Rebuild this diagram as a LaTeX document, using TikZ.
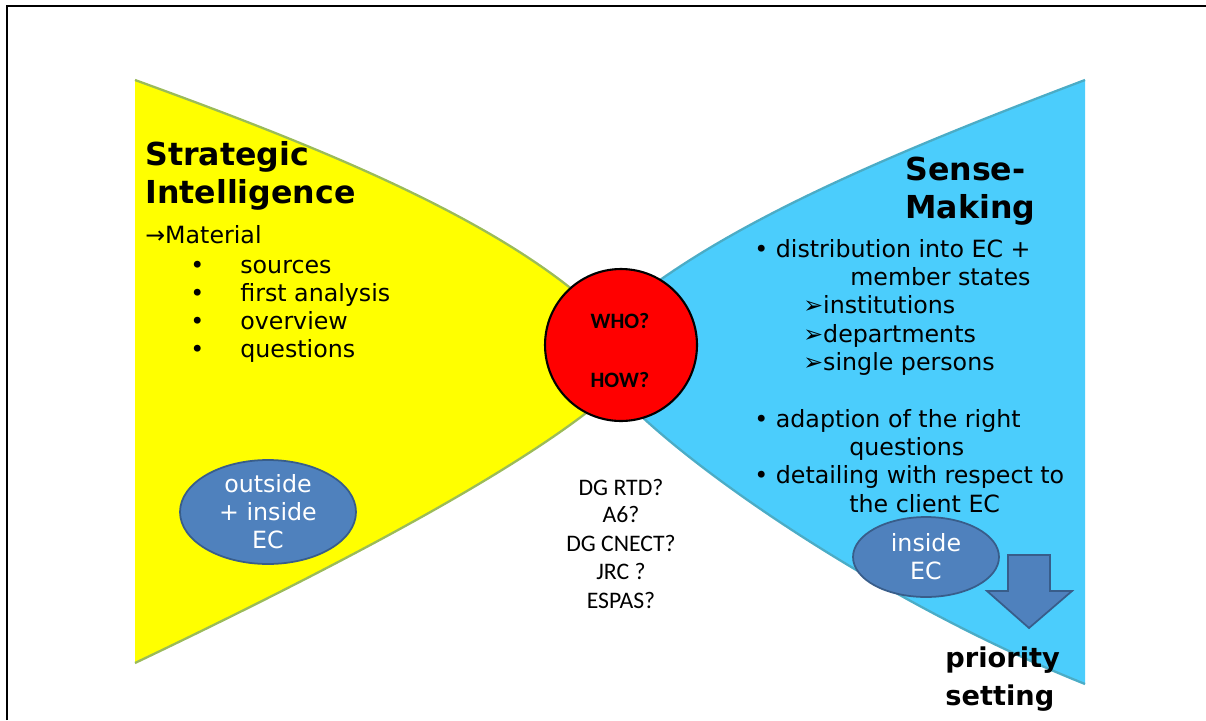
\documentclass[tikz,border=0pt]{standalone}
\usepackage{fontspec}
\setmainfont{DejaVu Sans}
\newfontfamily\calfont{Carlito}
\usetikzlibrary{shapes.geometric}

\definecolor{siyellow}{HTML}{FFFF00}
\definecolor{siedge}{HTML}{9BBB59}
\definecolor{smblue}{HTML}{4BCDFC}
\definecolor{smedge}{HTML}{4BACC6}
\definecolor{blobfill}{HTML}{4F81BD}
\definecolor{blobline}{HTML}{385D8A}

\tikzset{
	head/.style={font=\bfseries\fontsize{18}{22}\selectfont, inner sep=0pt, anchor=base west},
	txt/.style={font=\fontsize{13.5}{16}\selectfont, inner sep=0pt, anchor=base west},
	who/.style={font=\calfont\fontsize{13.5}{16}\selectfont, inner sep=0pt, anchor=base},
	bluefill/.style={draw=blobline, fill=blobfill, line width=1pt},
	blob/.style={bluefill, ellipse, inner sep=0pt},
	blobtxt/.style={font=\fontsize{13.5}{16}\selectfont, text=white, align=center, inner sep=0pt}
}

\begin{document}
\begin{tikzpicture}[x=0.02cm, y=-0.02cm]
			\useasboundingbox (0,0) rectangle (1206,720);
			\draw[line width=1.7pt] (7,720) |- (1206,6);

			% the two wings
			\filldraw[fill=siyellow, draw=siedge, line width=1.3pt] (135,80) .. controls (300,140) and (480,210) .. (585,300) -- (620,350) -- (590,410) .. controls (500,480) and (330,570) .. (135,663);
			\filldraw[fill=smblue, draw=smedge, line width=1.3pt] (1085,80) .. controls (900,150) and (760,210) .. (660,280) -- (620,350) -- (640,415) .. controls (720,490) and (900,610) .. (1085,684);

			\node (hub)[circle, draw, fill=red, line width=1.2pt, minimum size=3.04cm]at (621,345) {};
			\node (who)[who, font=\calfont\bfseries\fontsize{12.5}{14}\selectfont]at (620,328) {WHO?};
			\node (how)[who, font=\calfont\bfseries\fontsize{12.5}{14}\selectfont]at (620,387) {HOW?};

			% left wing
			\node (s1)[head]at (145,165) {Strategic};
			\node (s2)[head]at (145,203) {Intelligence};
			\node (mat)[txt]at (145,243) {→Material};
			\node (b1)[txt]at (190,273) {•};
			\node (l1)[txt]at (240,273) {sources};
			\node (b2)[txt]at (190,301) {•};
			\node (l2)[txt]at (240,301) {first analysis};
			\node (b3)[txt]at (190,329) {•};
			\node (l3)[txt]at (240,329) {overview};
			\node (b4)[txt]at (190,357) {•};
			\node (l4)[txt]at (240,357) {questions};

			\node (outin)[blob, minimum width=3.52cm, minimum height=2.08cm]at (268,512) {};
			\node (outintxt)[blobtxt]at (outin) {outside\\+ inside\\EC};

			% right wing
			\node (m1)[head]at (905,180) {Sense-};
			\node (m2)[head]at (905,218) {Making};
			\node (r1)[txt]at (754,257) {• distribution into EC +};
			\node (r2)[txt]at (850,285) {member states};
			\node (r3)[txt]at (803,313) {➢institutions};
			\node (r4)[txt]at (803,342) {➢departments};
			\node (r5)[txt]at (803,370) {➢single persons};
			\node (r6)[txt]at (754,427) {• adaption of the right};
			\node (r7)[txt]at (849,455) {questions};
			\node (r8)[txt]at (754,483) {• detailing with respect to};
			\node (r9)[txt]at (849,512) {the client EC};

			\node (ins)[blob, minimum width=2.92cm, minimum height=1.6cm]at (926,557) {};
			\node (instxt)[blobtxt]at (ins) {inside\\EC};

			\filldraw[bluefill] (1008,555) -- (1050,555) -- (1050,591) -- (1072,591) -- (1029,628) -- (987,591) -- (1008,591) -- cycle;
			\node (p1)[head, font=\bfseries\fontsize{15.5}{18}\selectfont]at (945,667) {priority};
			\node (p2)[head, font=\bfseries\fontsize{15.5}{18}\selectfont]at (945,705) {setting};

			% who could do it
			\node (dg1)[who]at (621,495) {DG RTD?};
			\node (dg2)[who]at (621,522) {A6?};
			\node (dg3)[who]at (621,551) {DG CNECT?};
			\node (dg4)[who]at (621,579) {JRC ?};
			\node (dg5)[who]at (621,608) {ESPAS?};
		\end{tikzpicture}
\end{document}
